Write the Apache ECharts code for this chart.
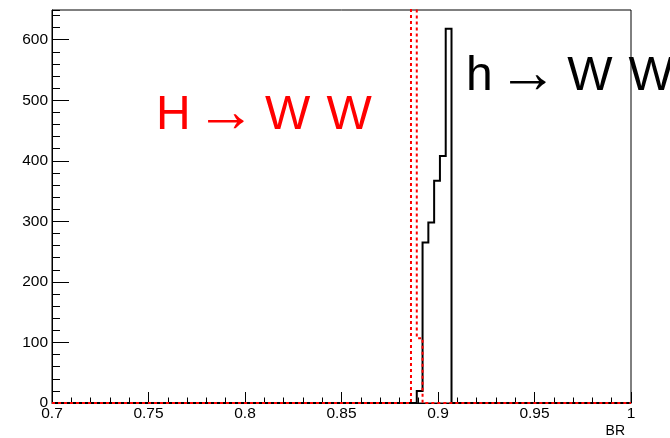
<!DOCTYPE html>
<html>
<head>
<meta charset="utf-8">
<script src="https://cdn.jsdelivr.net/npm/echarts@6/dist/echarts.min.js"></script>
<style>
  html, body { margin: 0; padding: 0; background: #fff; }
  #chart { width: 670px; height: 438px; }
</style>
</head>
<body>
<div id="chart"></div>
<script>
// Branching ratio histograms, 0.003-wide bins on [0.7, 1.0]
const xRange = [0.7, 1.0];
const xTicks = [0.7, 0.75, 0.8, 0.85, 0.9, 0.95, 1];
const yTicks = [0, 100, 200, 300, 400, 500, 600];
const yMax = 649;

// H -> W W (red, dotted): non-empty bins
const heavyEdges = [0.886, 0.889, 0.892];
const heavyCounts = [1500, 107];

// h -> W W (black, solid): non-empty bins
const lightEdges = [0.889, 0.892, 0.895, 0.898, 0.901, 0.904, 0.907];
const lightCounts = [20, 265, 298, 367, 408, 618];

// Outline of a histogram: empty baseline, then the stepped bins, then baseline again
function outline(edges, counts) {
  const pts = [[xRange[0], 0], [edges[0], 0]];
  for (let i = 0; i < counts.length; i++) {
    pts.push([edges[i], counts[i]]);
    pts.push([edges[i + 1], counts[i]]);
  }
  pts.push([edges[edges.length - 1], 0]);
  pts.push([xRange[1], 0]);
  return pts;
}

const FONT = "'Liberation Sans', Arial, Helvetica, sans-serif";

// Process label: letters at 48px, a longer thin arrow between them,
// hand-tuned spaces around the arrow and between the two W
function processLabel(left, top, lead, color) {
  const tok = (size, extra) => Object.assign(
    { fontFamily: FONT, fontSize: size, color: color, lineHeight: 56, verticalAlign: 'middle' },
    extra || {});
  return {
    type: 'text', z: -10, left: left, top: top,
    style: {
      text: '{a|' + lead + '}{s1| }{b|\u2192}{s2| }{a|W}{w| }{a|W}',
      fill: color,
      rich: {
        a: tok(48),
        b: tok(60, { padding: [0, 0, 4, 0] }),
        s1: tok(19),
        s2: tok(33),
        w: tok(58)
      }
    }
  };
}

const chart = echarts.init(document.getElementById('chart'), null, { renderer: 'canvas' });

chart.setOption({
  animation: false,
  backgroundColor: '#fff',
  grid: {
    left: 52, right: 39, top: 10, bottom: 35,
    show: true, borderColor: '#000', borderWidth: 1, backgroundColor: 'transparent'
  },
  xAxis: {
    type: 'value',
    min: xRange[0], max: xRange[1], interval: 0.05,
    name: 'BR',
    nameLocation: 'end',
    nameGap: 0,
    nameTextStyle: {
      fontFamily: FONT, fontSize: 14, color: '#000',
      align: 'right', verticalAlign: 'top', padding: [21, 6, 0, 0]
    },
    axisLine: { show: true, onZero: false, lineStyle: { color: '#000', width: 1 } },
    axisTick: { show: true, inside: true, length: 11, lineStyle: { color: '#000', width: 1 } },
    minorTick: { show: true, splitNumber: 5, length: 5.5, lineStyle: { color: '#000', width: 1 } },
    splitLine: { show: false },
    axisLabel: {
      fontFamily: FONT, fontSize: 15.5, color: '#000', margin: 3,
      formatter: v => {
        const t = xTicks.find(k => Math.abs(k - v) < 1e-9);
        return t === undefined ? '' : String(t);
      }
    }
  },
  yAxis: [
    {
      type: 'value', position: 'left',
      min: 0, max: yMax, interval: 100,
      axisLine: { show: true, lineStyle: { color: '#000', width: 1 } },
      axisTick: { show: true, inside: true, length: 17, lineStyle: { color: '#000', width: 1 } },
      splitLine: { show: false },
      axisLabel: {
        fontFamily: FONT, fontSize: 15.5, color: '#000', margin: 4,
        showMaxLabel: false,
        formatter: v => (yTicks.indexOf(v) >= 0 ? String(v) : '')
      }
    },
    {
      // minor ticks every 20 counts
      type: 'value', position: 'left', offset: 0,
      min: 0, max: yMax, interval: 20,
      axisLine: { show: false },
      axisTick: { show: true, inside: true, length: 8, lineStyle: { color: '#000', width: 1 } },
      splitLine: { show: false },
      axisLabel: { show: false }
    }
  ],
  graphic: [
    processLabel(156, 84, 'H', '#ff0000'),
    processLabel(466, 45, 'h', '#000000')
  ],
  series: [
    {
      name: 'h \u2192 W W',
      type: 'line',
      yAxisIndex: 0,
      data: outline(lightEdges, lightCounts),
      showSymbol: false,
      symbol: 'none',
      clip: true,
      lineStyle: { color: '#000', width: 2, type: 'solid', join: 'miter', cap: 'butt' },
      z: 3
    },
    {
      name: 'H \u2192 W W',
      type: 'line',
      yAxisIndex: 0,
      data: outline(heavyEdges, heavyCounts),
      showSymbol: false,
      symbol: 'none',
      clip: true,
      lineStyle: { color: '#ff0000', width: 2, type: [3, 3], join: 'miter', cap: 'butt' },
      z: 4
    }
  ]
});
</script>
</body>
</html>
